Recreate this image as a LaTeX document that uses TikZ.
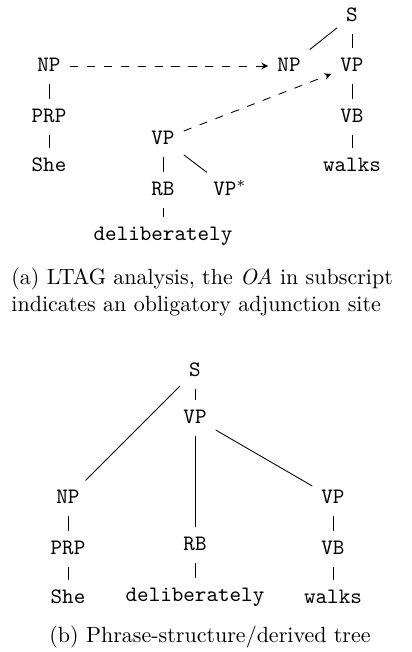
\documentclass[tikz,border=0pt]{standalone}
\usepackage{amsmath}
\usepackage{tikz}

\begin{document}
\begin{tikzpicture}[x=0.4545pt, y=-0.4545pt,
	lab/.style={font=\ttfamily, inner sep=4pt, text height=1.5ex, text depth=.25ex},
	adjoin/.style={dash pattern=on 3.7pt off 4pt, ->, >=stealth}]
	\useasboundingbox (0,0) rectangle (412,652);

	% (a) elementary trees
	\node[lab] (s1)   at (352, 16)  {S};
	\node[lab] (np1)  at (49, 66)   {NP};
	\node[lab] (np2)  at (289, 66)  {NP};
	\node[lab] (vp1)  at (352, 66)  {VP};
	\node[lab] (prp1) at (49, 117)  {PRP};
	\node[lab] (vb1)  at (352, 117) {VB};
	\node[lab] (she1) at (49, 166)  {She};
	\node[lab] (wlk1) at (352, 166) {walks};
	\node[lab] (vp2)  at (163, 139) {VP};
	\node[lab] (rb1)  at (163, 190) {RB};
	\node[lab] (vps)  at (230, 190) {VP$^*$};
	\node[lab] (dlb1) at (163, 235) {deliberately};

	\path[-] (s1) edge (np2);
	\path[-] (s1) edge (vp1);
	\path[-] (vp1) edge (vb1);
	\path[-] (vb1) edge (wlk1);
	\path[-] (np1) edge (prp1);
	\path[-] (prp1) edge (she1);
	\path[-] (vp2) edge (rb1);
	\path[-] (vp2) edge (vps);
	\path[-] (rb1) edge (dlb1);
	\path[adjoin] (np1) edge (np2);
	\path[adjoin] (vp2) edge (vp1);

	\node[anchor=north west, align=left, inner sep=0pt] (capa) at (11, 268)
		{(a) LTAG analysis, the \textit{OA} in subscript\\
		 indicates an obligatory adjunction site};

	% (b) derived tree
	\node[lab] (s2)   at (195, 371) {S};
	\node[lab] (vp3)  at (195, 418) {VP};
	\node[lab] (np3)  at (68, 498)  {NP};
	\node[lab] (vp4)  at (333, 498) {VP};
	\node[lab] (prp2) at (68, 549)  {PRP};
	\node[lab] (rb2)  at (195, 545) {RB};
	\node[lab] (vb2)  at (333, 549) {VB};
	\node[lab] (she2) at (68, 598)  {She};
	\node[lab] (dlb2) at (195, 596) {deliberately};
	\node[lab] (wlk2) at (333, 598) {walks};

	\path[-] (s2) edge (np3);
	\path[-] (s2) edge (vp3);
	\path[-] (vp3) edge (rb2);
	\path[-] (vp3) edge (vp4);
	\path[-] (np3) edge (prp2);
	\path[-] (prp2) edge (she2);
	\path[-] (rb2) edge (dlb2);
	\path[-] (vp4) edge (vb2);
	\path[-] (vb2) edge (wlk2);

	\node[anchor=base, inner sep=0pt] (capb) at (210, 642)
		{(b) Phrase-structure/derived tree};
\end{tikzpicture}
\end{document}
